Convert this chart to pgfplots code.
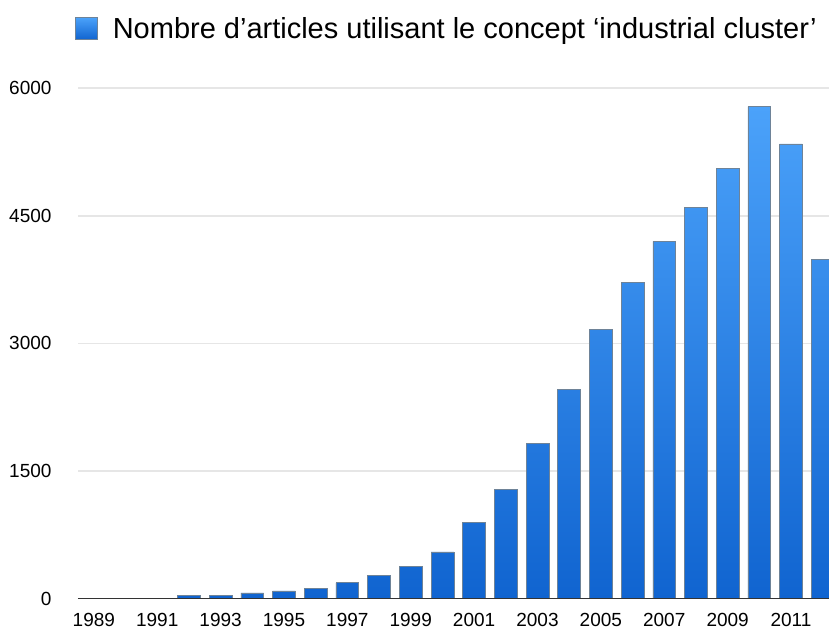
\documentclass[border=0pt]{standalone}
\usepackage{pgfplots}
\pgfplotsset{compat=1.18}
\usepackage{fontspec}
\setmainfont{Liberation Sans}
\definecolor{bartop}{HTML}{4BA2FA}
\definecolor{barbot}{HTML}{1064D0}
\definecolor{baredge}{HTML}{6E8398}
\definecolor{gridc}{HTML}{E6E6E6}
\definecolor{basec}{HTML}{333333}
\begin{document}
\begin{tikzpicture}
\begin{axis}[
  at={(0,0)}, anchor=south west,
  scale only axis,
  width=751bp, height=510.2bp,
  xmin=1988.5, xmax=2012.2,
  ymin=0, ymax=6000,
  clip mode=individual,
  axis line style={draw=none},
  major tick length=0pt,
  xtick={1989,1991,...,2011},
  ytick={0,1500,3000,4500,6000},
  ymajorgrids,
  major grid style={color=gridc, line width=1.6bp},
  /pgf/number format/1000 sep={},
  /pgf/number format/assume math mode=true,
  tick label style={font=\fontsize{19bp}{22bp}\selectfont, text=black},
  yticklabel style={xshift=-23bp},
  xticklabel style={yshift=-11bp},
  legend style={at={(axis description cs:0,1)}, anchor=west, xshift=-3bp, yshift=59.8bp,
    draw=none, fill=none, inner sep=0pt,
    font=\fontsize{29bp}{32bp}\selectfont},
  legend cell align=left,
]
\addplot[ybar, bar width=0.72, draw=baredge, line width=0.6bp,
  top color=bartop, bottom color=barbot,
  legend image code/.code={\path[top color=bartop, bottom color=barbot, draw=baredge, line width=0.6bp] (0bp,-11bp) rectangle (22bp,11bp);
    \path (35bp,0bp);}]
coordinates {
(1989,0) (1990,0) (1991,0) (1992,40) (1993,40) (1994,65) (1995,90) (1996,115)
(1997,185) (1998,276) (1999,375) (2000,549) (2001,892) (2002,1287) (2003,1825)
(2004,2460) (2005,3160) (2006,3715) (2007,4200) (2008,4595) (2009,5055)
(2010,5785) (2011,5345) (2012,3985)
};
\addlegendentry{Nombre d’articles utilisant le concept ‘industrial cluster’}
\draw[basec, line width=1.8bp] (axis cs:1988.5,0) -- (axis cs:2012.2,0);
\end{axis}
\pgfresetboundingbox
\path (-78bp,-31.5bp) rectangle (751bp,598.5bp);
\end{tikzpicture}
\end{document}
